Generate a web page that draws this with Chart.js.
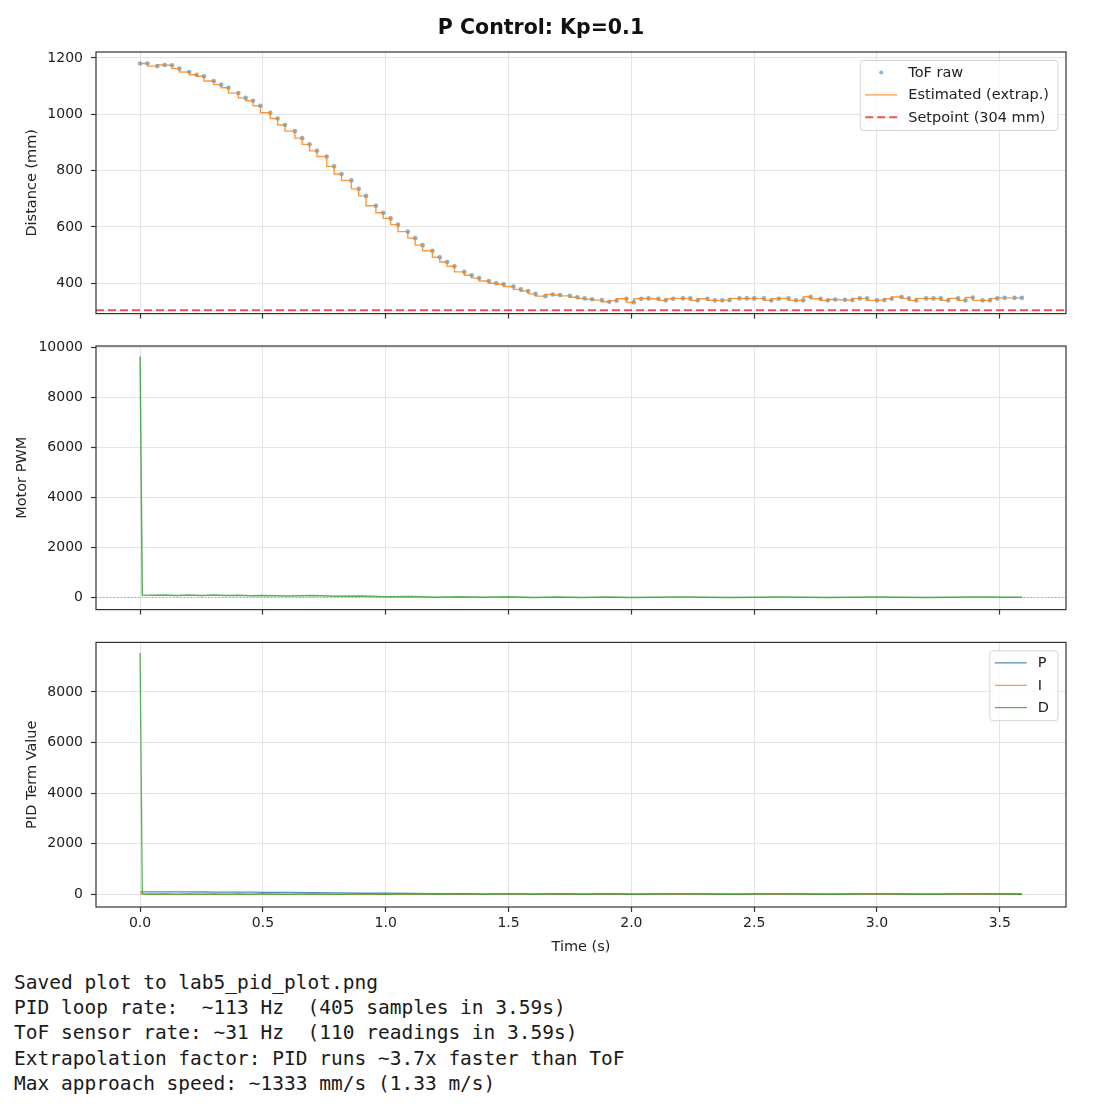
<!DOCTYPE html>
<html><head><meta charset="utf-8">
<script src="https://cdn.jsdelivr.net/npm/chart.js@4.4.1/dist/chart.umd.min.js"></script>
<style>
html,body{margin:0;padding:0;background:#fff;}
#wrap{position:relative;width:1116px;height:1112px;background:#fff;overflow:hidden;}
canvas{position:absolute;left:0;}
#c1{top:0}
#c2{top:326px}
#c3{top:626px}
#log{position:absolute;left:14px;top:970px;margin:0;font-family:"DejaVu Sans Mono",monospace;font-size:19.5px;line-height:25.2px;color:#1a1a1a;white-space:pre;}
</style></head><body>
<div id="wrap">
<canvas id="c1" width="1082" height="330"></canvas>
<canvas id="c2" width="1082" height="300"></canvas>
<canvas id="c3" width="1082" height="330"></canvas>
<pre id="log">Saved plot to lab5_pid_plot.png
PID loop rate:  ~113 Hz  (405 samples in 3.59s)
ToF sensor rate: ~31 Hz  (110 readings in 3.59s)
Extrapolation factor: PID runs ~3.7x faster than ToF
Max approach speed: ~1333 mm/s (1.33 m/s)</pre>
</div>
<script>
// ---------- DATA ----------
const titleText = 'P Control: Kp=0.1';
const X_MIN = -0.1795, X_MAX = 3.7695;
const SETPOINT = 304;

const timeTicks = [0.0, 0.5, 1.0, 1.5, 2.0, 2.5, 3.0, 3.5];
const distTicks = [400, 600, 800, 1000, 1200];
const pwmTicks = [0, 2000, 4000, 6000, 8000, 10000];
const pidTicks = [0, 2000, 4000, 6000, 8000];

const tofTime = [
  0.00,0.03,0.07,0.10,0.13,0.16,0.20,0.23,0.26,0.30,
  0.33,0.36,0.40,0.43,0.46,0.49,0.53,0.56,0.59,0.63,
  0.66,0.69,0.72,0.76,0.79,0.82,0.86,0.89,0.92,0.96,
  0.99,1.02,1.05,1.09,1.12,1.15,1.19,1.22,1.25,1.28,
  1.32,1.35,1.38,1.42,1.45,1.48,1.52,1.55,1.58,1.61,
  1.65,1.68,1.71,1.75,1.78,1.81,1.84,1.88,1.91,1.94,
  1.98,2.01,2.04,2.07,2.11,2.14,2.17,2.21,2.24,2.27,
  2.31,2.34,2.37,2.40,2.44,2.47,2.50,2.54,2.57,2.60,
  2.64,2.67,2.70,2.73,2.77,2.80,2.83,2.87,2.90,2.93,
  2.96,3.00,3.03,3.06,3.10,3.13,3.16,3.20,3.23,3.26,
  3.29,3.33,3.36,3.39,3.43,3.46,3.49,3.52,3.56,3.59
];
const tofMm = [
  1180,1180,1171,1175,1174,1162,1150,1140,1135,1118,
  1105,1094,1075,1058,1048,1030,1005,985,962,940,
  915,893,870,850,815,788,765,735,710,675,
  650,630,608,583,560,535,515,492,475,460,
  440,428,418,408,400,396,388,378,372,362,
  354,360,358,355,350,346,343,340,334,338,
  345,332,345,346,345,339,345,346,346,339,
  345,339,339,340,346,346,346,346,339,345,
  346,339,339,352,345,339,342,341,340,346,
  346,339,340,345,351,346,339,346,346,346,
  339,346,339,349,339,339,346,348,348,348
];
// estimated (extrapolated) distance: held between ToF readings
const estTime = tofTime;
const estMm = tofMm;

const pidTime = [0.000,0.009,0.05,0.10,0.15,0.20,0.25,0.30,0.35,0.40,
  0.45,0.50,0.60,0.70,0.80,0.90,1.00,1.10,1.20,1.30,
  1.40,1.50,1.60,1.70,1.80,1.90,2.00,2.20,2.40,2.60,
  2.80,3.00,3.20,3.40,3.59];
const motorPwm = [9628,96,82,97,77,92,71,90,71,88,
  65,78,52,70,41,56,23,35,6,25,
  4,21,-4,14,-8,12,-5,15,-4,14,
  -8,13,-3,14,-1];
const pTerm = [88,88,88,87,86,85,83,81,79,77,
  75,72,65,58,50,42,34,27,20,15,
  11,9,6,5,4,4,4,4,4,4,
  4,4,4,4,4];
const iTerm = [0,0,0,0,0,0,0,0,0,0,
  0,0,0,0,0,0,0,0,0,0,
  0,0,0,0,0,0,0,0,0,0,
  0,0,0,0,0];
const dTerm = [9540,8,-6,10,-9,7,-12,9,-8,11,
  -10,6,-13,12,-9,14,-11,8,-14,10,
  -7,12,-10,9,-12,8,-9,11,-8,10,
  -12,9,-7,10,-5];

// ---------- HELPERS ----------
const pts = (xs, ys) => xs.map((x, i) => ({x, y: ys[i]}));
const FONT = '"DejaVu Sans", sans-serif';
const C_BLUE = 'rgba(31,119,180,0.8)';
const C_ORANGE = 'rgba(255,127,14,0.8)';
const C_GREEN = 'rgba(44,160,44,0.8)';

const framePlugin = {
  id: 'frame',
  afterDatasetsDraw(chart) {
    const {ctx, chartArea: a} = chart;
    ctx.save();
    ctx.strokeStyle = '#333';
    ctx.lineWidth = 1.2;
    ctx.strokeRect(a.left, a.top, a.right - a.left, a.bottom - a.top);
    ctx.restore();
  }
};

const boxLegend = {
  id: 'boxLegend',
  afterDraw(chart, args, opts) {
    if (!opts || !opts.show) return;
    const {ctx, chartArea: a} = chart;
    const items = chart.data.datasets.filter(d => d.inLegend);
    ctx.save();
    ctx.font = '14.5px ' + FONT;
    let maxW = 0;
    items.forEach(d => { maxW = Math.max(maxW, ctx.measureText(d.label).width); });
    const rowH = 22.4;
    const w = 5 + 32 + 11 + maxW + 9;
    const h = 12 + rowH * (items.length - 1) + 13;
    const right = a.right - 8, top = a.top + 8.5;
    const left = right - w;
    ctx.beginPath();
    ctx.roundRect(left, top, w, h, 3);
    ctx.fillStyle = 'rgba(255,255,255,0.85)';
    ctx.fill();
    ctx.strokeStyle = '#d4d4d4';
    ctx.lineWidth = 1;
    ctx.stroke();
    items.forEach((d, i) => {
      const cy = top + 12 + rowH * i;
      const sx = left + 5, ex = left + 37;
      if (d.showLine === false) {
        ctx.beginPath();
        ctx.arc((sx + ex) / 2, cy, 2, 0, Math.PI * 2);
        ctx.fillStyle = d.pointBackgroundColor;
        ctx.fill();
      } else {
        ctx.beginPath();
        ctx.setLineDash(d.borderDash || []);
        ctx.strokeStyle = d.borderColor;
        ctx.lineWidth = d.borderWidth;
        ctx.moveTo(sx, cy); ctx.lineTo(ex, cy);
        ctx.stroke();
        ctx.setLineDash([]);
      }
      ctx.fillStyle = '#222';
      ctx.textBaseline = 'middle';
      ctx.textAlign = 'left';
      ctx.fillText(d.label, left + 48, cy + 0.5);
    });
    ctx.restore();
  }
};

function makeOptions(cfg) {
  return {
    responsive: false,
    animation: false,
    devicePixelRatio: 1,
    layout: {padding: {left: cfg.padLeft, right: 16, top: cfg.padTop, bottom: 0}},
    plugins: {
      legend: {display: false},
      tooltip: {enabled: false},
      title: cfg.title ? {
        display: true, text: cfg.title, color: '#111',
        font: {family: FONT, size: 20.5, weight: 'bold', lineHeight: 1.2},
        padding: {top: 16.7, bottom: 10.7}
      } : {display: false},
      boxLegend: {show: !!cfg.legend}
    },
    scales: {
      x: {
        type: 'linear', position: 'bottom',
        min: X_MIN, max: X_MAX,
        afterBuildTicks: s => { s.ticks = timeTicks.map(v => ({value: v})); },
        afterFit: s => { s.height = cfg.xHeight; },
        grid: {color: '#e4e4e4', lineWidth: 1, tickLength: 5, tickColor: '#333', tickWidth: 1.2, drawTicks: true},
        border: {display: false},
        ticks: {
          autoSkip: false, maxRotation: 0,
          padding: 3.4, color: '#222', font: {family: FONT, size: 14},
          callback: v => cfg.xLabels ? Number(v).toFixed(1) : ''
        },
        title: cfg.xTitle ? {display: true, text: cfg.xTitle, color: '#222',
          font: {family: FONT, size: 14.5, lineHeight: 1.2}, padding: {top: 0, bottom: 0.5}} : {display: false}
      },
      y: {
        type: 'linear', position: 'left',
        min: cfg.yMin, max: cfg.yMax,
        afterBuildTicks: s => { s.ticks = cfg.yTicks.map(v => ({value: v})); },
        afterFit: s => { s.width = cfg.yWidth; },
        grid: {color: '#e4e4e4', lineWidth: 1, tickLength: 5, tickColor: '#333', tickWidth: 1.2, drawTicks: true},
        border: {display: false},
        ticks: {
          autoSkip: false,
          padding: 8, color: '#222', font: {family: FONT, size: 14},
          callback: v => String(v)
        },
        title: {display: true, text: cfg.yTitle, color: '#222',
          font: {family: FONT, size: 14.5, lineHeight: 1.2}, padding: {top: cfg.yTitlePad, bottom: 0}}
      }
    }
  };
}

// ---------- PANEL 1: Distance ----------
new Chart(document.getElementById('c1'), {
  type: 'line',
  data: {datasets: [
    {label: 'ToF raw', data: pts(tofTime, tofMm), showLine: false, inLegend: true,
     pointRadius: 2.3, pointBorderWidth: 0, pointBackgroundColor: 'rgba(31,119,180,0.55)',
     borderColor: 'rgba(31,119,180,0.55)', order: 3},
    {label: 'Estimated (extrap.)', data: pts(estTime, estMm), inLegend: true, stepped: 'after',
     borderColor: C_ORANGE, borderWidth: 1.4, pointRadius: 0, order: 2},
    {label: 'Setpoint (' + SETPOINT + ' mm)', data: [{x: X_MIN, y: SETPOINT}, {x: X_MAX, y: SETPOINT}], inLegend: true,
     borderColor: 'rgba(240,20,20,0.75)', borderWidth: 2, borderDash: [8, 4], pointRadius: 0, order: 1}
  ]},
  options: makeOptions({padLeft: 16, padTop: 0, yWidth: 80, xHeight: 10, xLabels: false,
    yMin: 292, yMax: 1221, yTicks: distTicks, yTitle: 'Distance (mm)', yTitlePad: 7.3,
    title: titleText, legend: true}),
  plugins: [framePlugin, boxLegend]
});

// ---------- PANEL 2: Motor PWM ----------
new Chart(document.getElementById('c2'), {
  type: 'line',
  data: {datasets: [
    {label: 'Motor PWM', data: pts(pidTime, motorPwm),
     borderColor: C_GREEN, borderWidth: 1.5, pointRadius: 0, tension: 0, order: 1},
    {label: 'zero', data: [{x: X_MIN, y: 0}, {x: X_MAX, y: 0}],
     borderColor: 'rgba(128,128,128,0.8)', borderWidth: 0.8, borderDash: [1.5, 2], pointRadius: 0, order: 2}
  ]},
  options: makeOptions({padLeft: 0, padTop: 20, yWidth: 96, xHeight: 13, xLabels: false,
    yMin: -490, yMax: 10050, yTicks: pwmTicks, yTitle: 'Motor PWM', yTitlePad: 13.3}),
  plugins: [framePlugin]
});

// ---------- PANEL 3: PID terms ----------
new Chart(document.getElementById('c3'), {
  type: 'line',
  data: {datasets: [
    {label: 'P', data: pts(pidTime, pTerm), inLegend: true,
     borderColor: C_BLUE, borderWidth: 1.3, pointRadius: 0, tension: 0, order: 3},
    {label: 'I', data: pts(pidTime, iTerm), inLegend: true,
     borderColor: C_ORANGE, borderWidth: 1.3, pointRadius: 0, tension: 0, order: 2},
    {label: 'D', data: pts(pidTime, dTerm), inLegend: true,
     borderColor: C_GREEN, borderWidth: 1.3, pointRadius: 0, tension: 0, order: 1}
  ]},
  options: makeOptions({padLeft: 0, padTop: 14, yWidth: 96, xHeight: 49, xLabels: true, xTitle: 'Time (s)',
    yMin: -510, yMax: 9960, yTicks: pidTicks, yTitle: 'PID Term Value', yTitlePad: 23.3, legend: true}),
  plugins: [framePlugin, boxLegend]
});
</script>
</body></html>
